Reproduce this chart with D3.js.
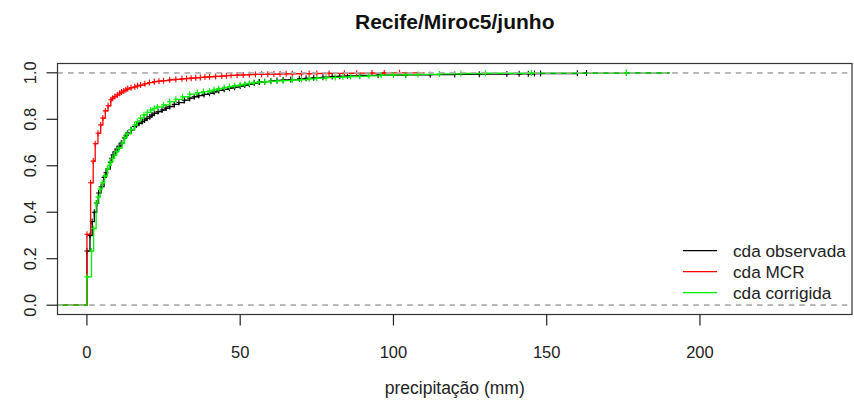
<!DOCTYPE html>
<html>
<head>
<meta charset="utf-8">
<script src="https://cdn.jsdelivr.net/npm/d3@7"></script>
<style>
  html, body { margin: 0; padding: 0; background: #fff; }
  svg { display: block; font-family: "Liberation Sans", Arial, sans-serif; }
</style>
</head>
<body>
<svg id="chart" width="854" height="406"></svg>
<script>
// Empirical cumulative distributions of June daily precipitation (mm), Recife.
// Each series: knot values (mm) and the cumulative probability reached at each knot.
const obsX = [0, 1.0, 1.7, 2.4, 3.2, 3.8, 4.6, 5.6, 6.2, 6.7, 7.6, 8.1, 8.5, 9.2, 9.8, 10.5, 11.2, 12.2, 12.8, 13.3,
  14.4, 15.5, 16.2, 17.0, 18.0, 18.8, 19.6, 20.5, 21.2, 22.0, 23.2, 24.5, 25.8, 27.0, 28.5, 30.0, 31.8, 33.5, 35.0, 36.5,
  38.2, 40.0, 41.5, 43.0, 44.8, 46.5, 48.2, 50.0, 51.5, 53.0, 54.6, 56.3, 58.0, 60.0, 62.0, 64.0, 66.5, 69.3, 71.5, 74.0,
  77.0, 80.0, 82.5, 85.0, 89.0, 95.0, 104.0, 112.0, 120.0, 128.0, 137.0, 141.0, 144.0, 146.0, 148.0, 160.0, 163.0, 176.0];
const obsF = [0.233, 0.300, 0.360, 0.400, 0.440, 0.483, 0.510, 0.550, 0.570, 0.586, 0.615, 0.632, 0.647, 0.660, 0.672, 0.685, 0.698, 0.720, 0.731, 0.740,
  0.755, 0.769, 0.776, 0.783, 0.790, 0.797, 0.804, 0.811, 0.818, 0.826, 0.833, 0.840, 0.848, 0.855, 0.864, 0.872, 0.882, 0.891, 0.897, 0.902,
  0.907, 0.912, 0.918, 0.924, 0.929, 0.934, 0.938, 0.943, 0.947, 0.951, 0.956, 0.960, 0.962, 0.965, 0.967, 0.969, 0.971, 0.974, 0.976, 0.979,
  0.981, 0.984, 0.985, 0.987, 0.989, 0.990, 0.991, 0.992, 0.993, 0.994, 0.995, 0.9955, 0.996, 0.9965, 0.997, 0.998, 0.999, 1.0];

const mcrX = [0, 1.2, 2.05, 2.7, 3.6, 4.5, 5.2, 6.0, 6.9, 7.8, 8.4, 9.1, 9.9, 10.7, 11.3, 12.0, 12.7, 13.3, 14.4, 15.6,
  16.5, 17.5, 18.9, 20.4, 22.0, 23.5, 25.0, 27.0, 29.0, 31.0, 32.5, 34.0, 35.5, 37.0, 38.5, 40.0, 42.0, 44.0, 45.5, 47.0,
  49.0, 51.0, 53.0, 55.0, 57.0, 59.0, 61.0, 63.0, 65.0, 67.0, 70.0, 72.5, 75.0, 79.0, 84.0, 88.0, 93.0, 97.0, 102.0];
const mcrF = [0.305, 0.527, 0.620, 0.695, 0.740, 0.776, 0.805, 0.836, 0.858, 0.884, 0.891, 0.898, 0.905, 0.912, 0.917, 0.922, 0.927, 0.931, 0.936, 0.940,
  0.944, 0.947, 0.953, 0.958, 0.962, 0.964, 0.966, 0.970, 0.972, 0.974, 0.9755, 0.977, 0.9785, 0.980, 0.9815, 0.983, 0.9845, 0.986, 0.9875, 0.989,
  0.990, 0.991, 0.992, 0.993, 0.9935, 0.994, 0.9945, 0.995, 0.9955, 0.996, 0.9963, 0.9966, 0.997, 0.9975, 0.998, 0.9985, 0.999, 0.9995, 1.0];

const corX = [0, 1.5, 2.2, 3.0, 3.6, 4.3, 5.0, 5.8, 6.7, 7.3, 7.8, 8.4, 9.0, 9.7, 10.4, 11.5, 12.3, 13.1, 14.3, 15.6,
  16.4, 17.5, 18.6, 19.7, 20.8, 22.0, 23.0, 25.0, 27.0, 29.0, 31.2, 33.5, 36.0, 38.0, 40.0, 41.5, 43.0, 44.8, 46.5, 48.2,
  50.0, 51.5, 53.0, 54.5, 56.0, 58.0, 60.0, 62.0, 64.0, 67.0, 70.0, 72.5, 75.0, 78.0, 81.0, 83.5, 86.0, 89.0, 92.0, 96.0,
  100.0, 104.0, 108.0, 115.0, 122.0, 130.0, 145.0, 176.0];
const corF = [0.122, 0.233, 0.330, 0.440, 0.465, 0.500, 0.527, 0.556, 0.586, 0.602, 0.618, 0.632, 0.646, 0.661, 0.676, 0.698, 0.720, 0.737, 0.756, 0.775,
  0.790, 0.805, 0.819, 0.830, 0.840, 0.847, 0.853, 0.862, 0.876, 0.886, 0.897, 0.908, 0.915, 0.919, 0.922, 0.927, 0.932, 0.937, 0.941, 0.945,
  0.948, 0.952, 0.955, 0.958, 0.960, 0.962, 0.963, 0.965, 0.966, 0.969, 0.971, 0.974, 0.977, 0.979, 0.980, 0.982, 0.984, 0.985, 0.987, 0.990,
  0.991, 0.992, 0.993, 0.995, 0.997, 0.998, 0.999, 1.0];

const seriesNames = ["cda observada", "cda MCR", "cda corrigida"];
const seriesColors = ["#000000", "#ff0000", "#00ee00"];
const xTicks = [0, 50, 100, 150, 200];
const yTicks = [0, 0.2, 0.4, 0.6, 0.8, 1.0];
const titleText = "Recife/Miroc5/junho";
const xLabel = "precipitação (mm)";

const series = [
  { name: seriesNames[0], color: seriesColors[0], xs: obsX, fs: obsF },
  { name: seriesNames[1], color: seriesColors[1], xs: mcrX, fs: mcrF },
  { name: seriesNames[2], color: seriesColors[2], xs: corX, fs: corF }
];

const svg = d3.select("#chart");
const plot = { left: 57.5, right: 852, top: 63.5, bottom: 314.5 };

// R-style axis limits: xlim 0..240 and y 0..1, each widened by 4%
const x = d3.scaleLinear().domain([-9.6, 249.6]).range([plot.left, plot.right]);
const y = d3.scaleLinear().domain([-0.04, 1.04]).range([plot.bottom, plot.top]);

svg.append("defs").append("clipPath").attr("id", "plotClip")
  .append("rect")
  .attr("x", plot.left).attr("y", plot.top)
  .attr("width", plot.right - plot.left).attr("height", plot.bottom - plot.top);

const g = svg.append("g").attr("clip-path", "url(#plotClip)");

const stepLine = d3.line()
  .x(d => x(d[0]))
  .y(d => y(d[1]))
  .curve(d3.curveStepAfter);

// grey dashed lines at 0 and 1, redrawn after every curve
function refLines() {
  [0, 1].forEach(v => {
    g.append("line")
      .attr("x1", plot.left).attr("x2", plot.right)
      .attr("y1", y(v)).attr("y2", y(v))
      .attr("stroke", "#b3b3b3")
      .attr("stroke-width", 1.3)
      .attr("stroke-dasharray", "5.3,5.3");
  });
}

series.forEach(s => {
  const lo = d3.min(s.xs), hi = d3.max(s.xs);
  const dr = 0.08 * (hi - lo);
  const pts = [[lo - dr, 0]];
  s.xs.forEach((v, i) => pts.push([v, s.fs[i]]));
  pts.push([hi + dr, s.fs[s.fs.length - 1]]);

  g.append("path")
    .attr("d", stepLine(pts))
    .attr("fill", "none")
    .attr("stroke", s.color)
    .attr("stroke-width", 1.3);

  // knot markers
  g.append("g").selectAll("path")
    .data(s.xs.map((v, i) => [v, s.fs[i]]))
    .join("path")
    .attr("d", d => {
      const px = x(d[0]), py = y(d[1]);
      return `M${px - 2.5},${py}H${px + 2.5}M${px},${py - 3}V${py + 3}`;
    })
    .attr("stroke", s.color)
    .attr("stroke-width", 1.1)
    .attr("fill", "none");

  refLines();
});

// frame
svg.append("rect")
  .attr("x", plot.left).attr("y", plot.top)
  .attr("width", plot.right - plot.left).attr("height", plot.bottom - plot.top)
  .attr("fill", "none").attr("stroke", "#333").attr("stroke-width", 1.2);

// x axis
const xa = svg.append("g");
xTicks.forEach(t => {
  xa.append("line")
    .attr("x1", x(t)).attr("x2", x(t))
    .attr("y1", plot.bottom).attr("y2", plot.bottom + 11)
    .attr("stroke", "#222").attr("stroke-width", 1.2);
  xa.append("text")
    .attr("x", x(t)).attr("y", 357.5)
    .attr("text-anchor", "middle")
    .attr("font-size", 16.5).attr("fill", "#222")
    .text(d3.format("d")(t));
});

// y axis
const ya = svg.append("g");
yTicks.forEach(t => {
  ya.append("line")
    .attr("x1", plot.left - 11).attr("x2", plot.left)
    .attr("y1", y(t)).attr("y2", y(t))
    .attr("stroke", "#222").attr("stroke-width", 1.2);
  ya.append("text")
    .attr("transform", `translate(36,${y(t)}) rotate(-90)`)
    .attr("text-anchor", "middle")
    .attr("font-size", 16.5).attr("fill", "#222")
    .text(d3.format(".1f")(t));
});

// titles
svg.append("text")
  .attr("x", (plot.left + plot.right) / 2).attr("y", 29)
  .attr("text-anchor", "middle")
  .attr("font-size", 21).attr("font-weight", "bold").attr("fill", "#111")
  .text(titleText);

svg.append("text")
  .attr("x", (plot.left + plot.right) / 2).attr("y", 394)
  .attr("text-anchor", "middle")
  .attr("font-size", 17.5).attr("fill", "#222")
  .text(xLabel);

// legend
const legend = svg.append("g");
series.forEach((s, i) => {
  const ly = 250.7 + i * 21;
  legend.append("line")
    .attr("x1", 683).attr("x2", 717)
    .attr("y1", ly).attr("y2", ly)
    .attr("stroke", s.color).attr("stroke-width", 1.3);
  legend.append("text")
    .attr("x", 733).attr("y", ly + 6)
    .attr("font-size", 17.2).attr("fill", "#222")
    .text(s.name);
});
</script>
</body>
</html>
